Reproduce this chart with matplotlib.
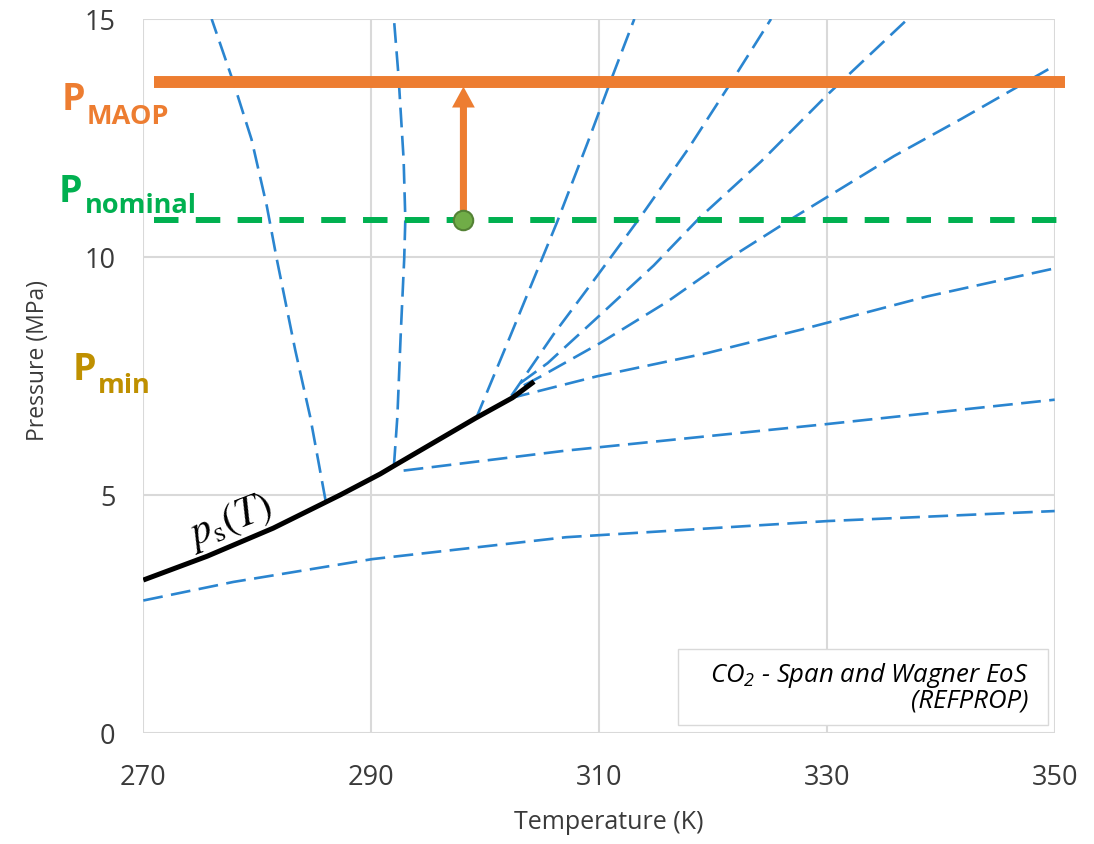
import matplotlib
matplotlib.use("Agg")
import matplotlib.pyplot as plt
from matplotlib.patches import Rectangle

plt.rcParams['font.family'] = ['Open Sans', 'DejaVu Sans']
plt.rcParams['mathtext.fontset'] = 'custom'
plt.rcParams['mathtext.rm'] = 'Open Sans:italic'
plt.rcParams['mathtext.it'] = 'Open Sans:italic'

# saturation curve p_s(T)
T_sat = [270.0, 275.6, 281.4, 287.3, 290.8, 292.0, 299.15, 302.4, 304.3]
P_sat = [3.21, 3.71, 4.30, 5.00, 5.44, 5.61, 6.61, 7.04, 7.38]

# blue dashed property lines (K, MPa)
T_a = [299.2, 302.2, 304.6, 306.3, 309.0, 311.2, 313.1]
P_a = [6.60, 8.33, 9.73, 10.72, 12.40, 13.81, 15.0]
T_b = [302.3, 306.0, 309.8, 313.7, 317.8, 321.6, 325.1]
P_b = [7.08, 8.37, 9.59, 10.86, 12.26, 13.67, 15.0]
T_c = [303.1, 305.5, 310.1, 314.8, 318.9, 324.2, 330.1, 337.1]
P_c = [7.35, 7.77, 8.78, 9.82, 10.84, 12.00, 13.42, 15.0]
T_d = [303.4, 304.9, 310.1, 316.0, 321.3, 327.1, 335.9, 341.8, 350.0]
P_d = [7.30, 7.49, 8.19, 9.06, 9.95, 10.83, 12.12, 12.90, 14.02]
T_e = [302.2, 309.8, 319.5, 327.7, 338.8, 350.0]
P_e = [7.03, 7.49, 7.98, 8.47, 9.17, 9.76]
T_f = [292.85, 307.1, 330.1, 350.0]
P_f = [5.51, 5.93, 6.49, 7.00]
T_g = [270.0, 277.9, 290.1, 307.1, 330.1, 350.0]
P_g = [2.78, 3.17, 3.65, 4.11, 4.45, 4.66]
T_h = [292.0, 292.3, 292.6, 292.9, 293.0, 292.85, 292.4, 292.0]
P_h = [5.61, 6.64, 8.40, 9.95, 10.79, 12.05, 13.81, 15.0]
T_i = [286.0, 284.65, 283.33, 281.72, 280.84, 279.5, 277.91, 276.0]
P_i = [4.88, 6.64, 8.05, 9.95, 11.07, 12.47, 13.67, 15.0]

blue_T = [T_a, T_b, T_c, T_d, T_e, T_f, T_g, T_h, T_i]
blue_P = [P_a, P_b, P_c, P_d, P_e, P_f, P_g, P_h, P_i]

# operating point and pressure levels
T_op = 298.1
P_nominal = 10.77
P_MAOP = 13.67
T_span = [270.9, 350.9]

x_ticks = [270, 290, 310, 330, 350]
y_ticks = [0, 5, 10, 15]

orange = '#ed7d31'
green = '#00b050'
gold = '#bf9000'
blue = '#2a85d0'
txt = '#3a3a3a'

W, H = 1094, 845
fig = plt.figure(figsize=(W / 100, H / 100), dpi=100)
ax = fig.add_axes([143.3 / W, (H - 733.8) / H, 911.4 / W, 713.8 / H])

ax.set_xlim(270, 350)
ax.set_ylim(0, 15)
ax.set_xticks(x_ticks)
ax.set_yticks(y_ticks)
ax.grid(True, color='#d9d9d9', lw=1.5, zorder=0)
ax.set_axisbelow(True)
for s in ax.spines.values():
    s.set_visible(False)
ax.tick_params(length=0, labelsize=19.5, labelcolor=txt)
ax.tick_params(axis='x', pad=22)
ax.tick_params(axis='y', pad=20)

# property lines
for tt, pp in zip(blue_T, blue_P):
    ax.plot(tt, pp, color=blue, lw=1.9, dashes=(7.5, 3.2), zorder=2)

# saturation curve
ax.plot(T_sat, P_sat, color='black', lw=3.6, solid_capstyle='butt', zorder=3)
ax.text(277.6, 4.47, r'$p_\mathrm{s}(T)$', math_fontfamily='stix', fontsize=30,
        rotation=21, rotation_mode='anchor', ha='center', va='center', zorder=3)

# MAOP and nominal pressure
ax.plot(T_span, [P_MAOP, P_MAOP], color=orange, lw=8.6, solid_capstyle='butt',
        clip_on=False, zorder=4)
ax.plot(T_span, [P_nominal, P_nominal], color=green, lw=4.3, dashes=(4.1, 2.9),
        dash_capstyle='butt', clip_on=False, zorder=4)
ax.arrow(T_op, P_nominal, 0, 13.58 - P_nominal, width=0.62, head_width=2.0,
         head_length=0.44, length_includes_head=True, color=orange, lw=0, zorder=5)
ax.plot([T_op], [P_nominal], 'o', ms=14, mfc='#70ad47', mec='#548235', mew=1.5, zorder=6)

# side labels
def plabel(xp, yp, sub, xs, ys, col):
    fig.text(xp / W, 1 - yp / H, 'P', fontsize=27, fontweight='bold', color=col,
             ha='left', va='baseline')
    fig.text(xs / W, 1 - ys / H, sub, fontsize=19.5, fontweight='bold', color=col,
             ha='left', va='baseline')

plabel(62, 110, 'MAOP', 87, 124, orange)
plabel(59, 202, 'nominal', 85, 213, green)
plabel(73, 380, 'min', 98, 393, gold)

# note box
ax.add_patch(Rectangle((0.587, 0.011), 0.406, 0.106, transform=ax.transAxes,
                       facecolor='white', edgecolor='#d9d9d9', lw=1, zorder=6))
fig.text(1028 / W, 1 - 682 / H, 'CO$_2$ - Span and Wagner EoS', fontsize=18.5,
         fontstyle='italic', color='black', ha='right', va='baseline', zorder=7)
fig.text(1028 / W, 1 - 708 / H, '(REFPROP)', fontsize=18.5,
         fontstyle='italic', color='black', ha='right', va='baseline', zorder=7)

fig.text(609 / W, 1 - 823 / H, 'Temperature (K)', fontsize=18, color=txt,
         ha='center', va='center')
fig.text(38 / W, 1 - 361 / H, 'Pressure (MPa)', fontsize=16.5, color=txt,
         rotation=90, ha='center', va='center')

fig.savefig('out.png', dpi=100)
